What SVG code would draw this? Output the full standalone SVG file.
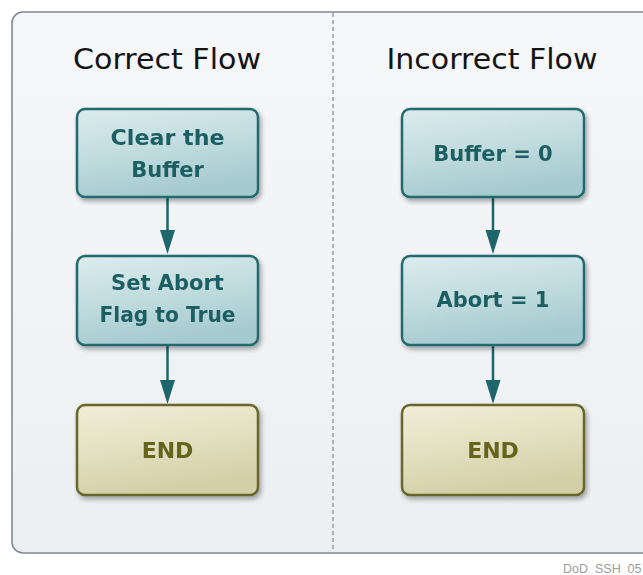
<svg xmlns="http://www.w3.org/2000/svg" width="643" height="575" viewBox="0 0 643 575">
<defs>
<linearGradient id="bg" x1="0" y1="0" x2="0" y2="1"><stop offset="0" stop-color="#f6f7f9"/><stop offset="1" stop-color="#eceff2"/></linearGradient>
<linearGradient id="teal" x1="0" y1="0" x2="0.3" y2="1"><stop offset="0" stop-color="#dcecee"/><stop offset="0.5" stop-color="#c3dde0"/><stop offset="1" stop-color="#a6cbcf"/></linearGradient>
<linearGradient id="olive" x1="0" y1="0" x2="0.3" y2="1"><stop offset="0" stop-color="#f0eed8"/><stop offset="0.5" stop-color="#e4e1c2"/><stop offset="1" stop-color="#d3cfa6"/></linearGradient>
<filter id="sh" x="-10%" y="-10%" width="125%" height="130%"><feGaussianBlur in="SourceAlpha" stdDeviation="2.5"/><feOffset dx="2" dy="3"/><feComponentTransfer><feFuncA type="linear" slope="0.35"/></feComponentTransfer><feMerge><feMergeNode/><feMergeNode in="SourceGraphic"/></feMerge></filter>
<style>
.title{font-family:"DejaVu Sans","Liberation Sans",sans-serif;font-size:28px;fill:#141414;text-anchor:middle}
.bx{stroke:#226a70;stroke-width:2.5;fill:url(#teal)}
.ex{stroke:#67662a;stroke-width:2.5;fill:url(#olive)}
.bt{font-family:"DejaVu Sans","Liberation Sans",sans-serif;font-weight:bold;font-size:21px;fill:#1f5e63;text-anchor:middle}
.et{font-family:"DejaVu Sans","Liberation Sans",sans-serif;font-weight:bold;font-size:22px;fill:#66641f;text-anchor:middle}
.cn{stroke:#1d666c;stroke-width:2.5;fill:none}
.ah{fill:#1d666c}
</style>
</defs>
<rect x="0" y="0" width="643" height="575" fill="#ffffff"/>
<g id="frame">
<rect x="12" y="12" width="660" height="541" rx="11" fill="url(#bg)" stroke="#7d8a90" stroke-width="1.6"/>
<line x1="333" y1="13" x2="333" y2="552" stroke="#8a9094" stroke-width="1.3" stroke-dasharray="4,3"/>
</g>
<g id="titles">
<text class="title" x="167" y="69" textLength="188" lengthAdjust="spacingAndGlyphs">Correct Flow</text>
<text class="title" x="492" y="69" textLength="211" lengthAdjust="spacingAndGlyphs">Incorrect Flow</text>
</g>
<g id="connectors">
<line class="cn" x1="167.5" y1="197" x2="167.5" y2="244"/>
<path class="ah" d="M160,230 L175,230 L167.5,254 Z"/>
<line class="cn" x1="167.5" y1="346" x2="167.5" y2="392"/>
<path class="ah" d="M160,380 L175,380 L167.5,404 Z"/>
<line class="cn" x1="493" y1="197" x2="493" y2="244"/>
<path class="ah" d="M485.5,230 L500.5,230 L493,254 Z"/>
<line class="cn" x1="493" y1="346" x2="493" y2="392"/>
<path class="ah" d="M485.5,380 L500.5,380 L493,404 Z"/>
</g>
<g id="n_clear" filter="url(#sh)">
<rect class="bx" x="77" y="109" width="181" height="88" rx="8"/>
<text class="bt" x="167.5" y="145" textLength="114" lengthAdjust="spacingAndGlyphs">Clear the</text>
<text class="bt" x="167.5" y="177">Buffer</text>
</g>
<g id="n_setabort" filter="url(#sh)">
<rect class="bx" x="77" y="256" width="181" height="89" rx="8"/>
<text class="bt" x="167.5" y="290">Set Abort</text>
<text class="bt" x="167.5" y="322" textLength="136" lengthAdjust="spacingAndGlyphs">Flag to True</text>
</g>
<g id="n_end1" filter="url(#sh)">
<rect class="ex" x="77" y="405" width="181" height="90" rx="8"/>
<text class="et" x="167.5" y="458">END</text>
</g>
<g id="n_buffer0" filter="url(#sh)">
<rect class="bx" x="402" y="109" width="182" height="88" rx="8"/>
<text class="bt" x="493" y="161">Buffer = 0</text>
</g>
<g id="n_abort1" filter="url(#sh)">
<rect class="bx" x="402" y="256" width="182" height="89" rx="8"/>
<text class="bt" x="493" y="307">Abort = 1</text>
</g>
<g id="n_end2" filter="url(#sh)">
<rect class="ex" x="402" y="405" width="182" height="90" rx="8"/>
<text class="et" x="493" y="458">END</text>
</g>
<text x="563" y="573" font-family="Liberation Sans, sans-serif" font-size="12.5" fill="#9a9ea2">DoD_SSH_05</text>
</svg>
